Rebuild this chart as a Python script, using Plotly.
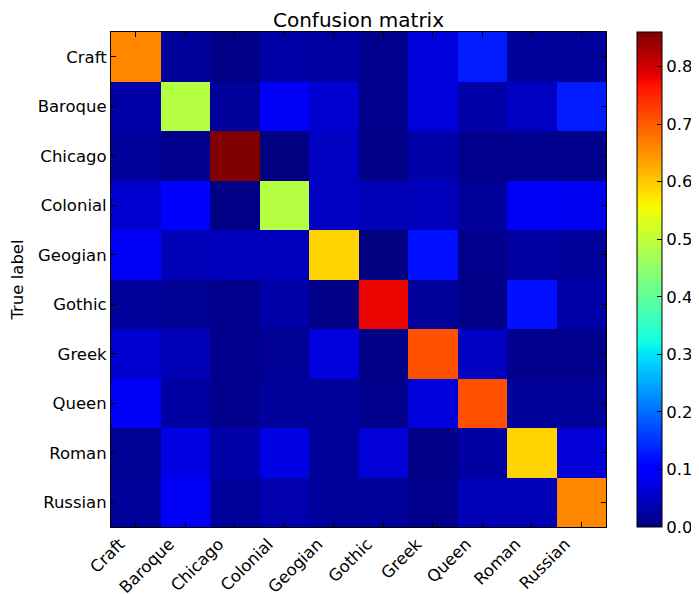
import plotly.graph_objects as go

labels = ["Craft", "Baroque", "Chicago", "Colonial", "Geogian", "Gothic", "Greek", "Queen", "Roman", "Russian"]

row_craft    = [0.66, 0.02, 0.005, 0.03, 0.025, 0.01, 0.07, 0.13, 0.02, 0.02]
row_baroque  = [0.03, 0.49, 0.02, 0.09, 0.06, 0.01, 0.07, 0.03, 0.05, 0.13]
row_chicago  = [0.02, 0.01, 0.86, 0.0, 0.05, 0.005, 0.03, 0.01, 0.01, 0.01]
row_colonial = [0.06, 0.10, 0.005, 0.49, 0.05, 0.04, 0.045, 0.02, 0.09, 0.085]
row_geogian  = [0.09, 0.04, 0.045, 0.045, 0.59, 0.0, 0.12, 0.01, 0.025, 0.02]
row_gothic   = [0.02, 0.015, 0.01, 0.03, 0.005, 0.78, 0.02, 0.005, 0.12, 0.03]
row_greek    = [0.06, 0.04, 0.01, 0.015, 0.07, 0.005, 0.71, 0.05, 0.01, 0.01]
row_queen    = [0.09, 0.025, 0.01, 0.02, 0.02, 0.01, 0.07, 0.71, 0.02, 0.02]
row_roman    = [0.015, 0.075, 0.03, 0.075, 0.02, 0.065, 0.005, 0.025, 0.59, 0.065]
row_russian  = [0.02, 0.09, 0.02, 0.035, 0.02, 0.02, 0.01, 0.04, 0.04, 0.66]

z = [row_craft, row_baroque, row_chicago, row_colonial, row_geogian,
     row_gothic, row_greek, row_queen, row_roman, row_russian]

# matplotlib 'jet' segment data
red_seg = [(0, 0), (0.35, 0), (0.66, 1), (0.89, 1), (1, 0.5)]
green_seg = [(0, 0), (0.125, 0), (0.375, 1), (0.64, 1), (0.91, 0), (1, 0)]
blue_seg = [(0, 0.5), (0.11, 1), (0.34, 1), (0.65, 0), (1, 0)]

def interp(seg, t):
    for (x0, y0), (x1, y1) in zip(seg[:-1], seg[1:]):
        if x0 <= t <= x1:
            return y0 + (y1 - y0) * (t - x0) / (x1 - x0) if x1 > x0 else y1
    return seg[-1][1]

stops = sorted(set([p[0] for p in red_seg + green_seg + blue_seg]))
jet = []
for t in stops:
    r, g, b = (round(255 * interp(s, t)) for s in (red_seg, green_seg, blue_seg))
    jet.append([t, f"rgb({r},{g},{b})"])

font = "DejaVu Sans"
tick_size = 16.5
W, H = 691, 586  # page body has an 8px margin

fig = go.Figure(go.Heatmap(
    z=z, x=labels, y=labels,
    colorscale=jet, zmin=0, zmax=max(max(r) for r in z),
    xgap=0, ygap=0,
    colorbar=dict(
        thickness=25, len=1, lenmode="fraction", y=0.5, yanchor="middle",
        x=(637 - 111) / 495, xanchor="left", xpad=0, ypad=0,
        outlinecolor="black", outlinewidth=1,
        ticks="inside", ticklen=5, tickcolor="black",
        tickvals=[0.0, 0.1, 0.2, 0.3, 0.4, 0.5, 0.6, 0.7, 0.8],
        ticktext=["0.0", "0.1", "0.2", "0.3", "0.4", "0.5", "0.6", "0.7", "0.8"],
        tickfont=dict(family=font, size=tick_size, color="black"),
    ),
))

fig.update_layout(
    width=W, height=H,
    margin=dict(l=103, r=93, t=24, b=67, autoexpand=False),
    paper_bgcolor="white", plot_bgcolor="white",
    title=dict(text="Confusion matrix", x=0.5, xref="paper", xanchor="center",
               y=1 - 11.5 / H, yref="container", yanchor="middle",
               font=dict(family=font, size=20, color="black")),
    font=dict(family=font, size=tick_size, color="black"),
)

fig.update_xaxes(
    tickangle=-45, ticks="inside", ticklen=5, tickcolor="black",
    showline=True, linecolor="black", linewidth=1, mirror="allticks",
    tickfont=dict(family=font, size=tick_size, color="black"),
    ticklabelshift=-16, ticklabelstandoff=0,
    showgrid=False, zeroline=False,
)
fig.update_yaxes(
    autorange="reversed", ticks="inside", ticklen=5, tickcolor="black",
    showline=True, linecolor="black", linewidth=1, mirror="allticks",
    tickfont=dict(family=font, size=tick_size, color="black"),
    title=dict(text="True label", font=dict(family=font, size=tick_size, color="black"), standoff=10),
    showgrid=False, zeroline=False,
)

fig.write_html("out.html")
